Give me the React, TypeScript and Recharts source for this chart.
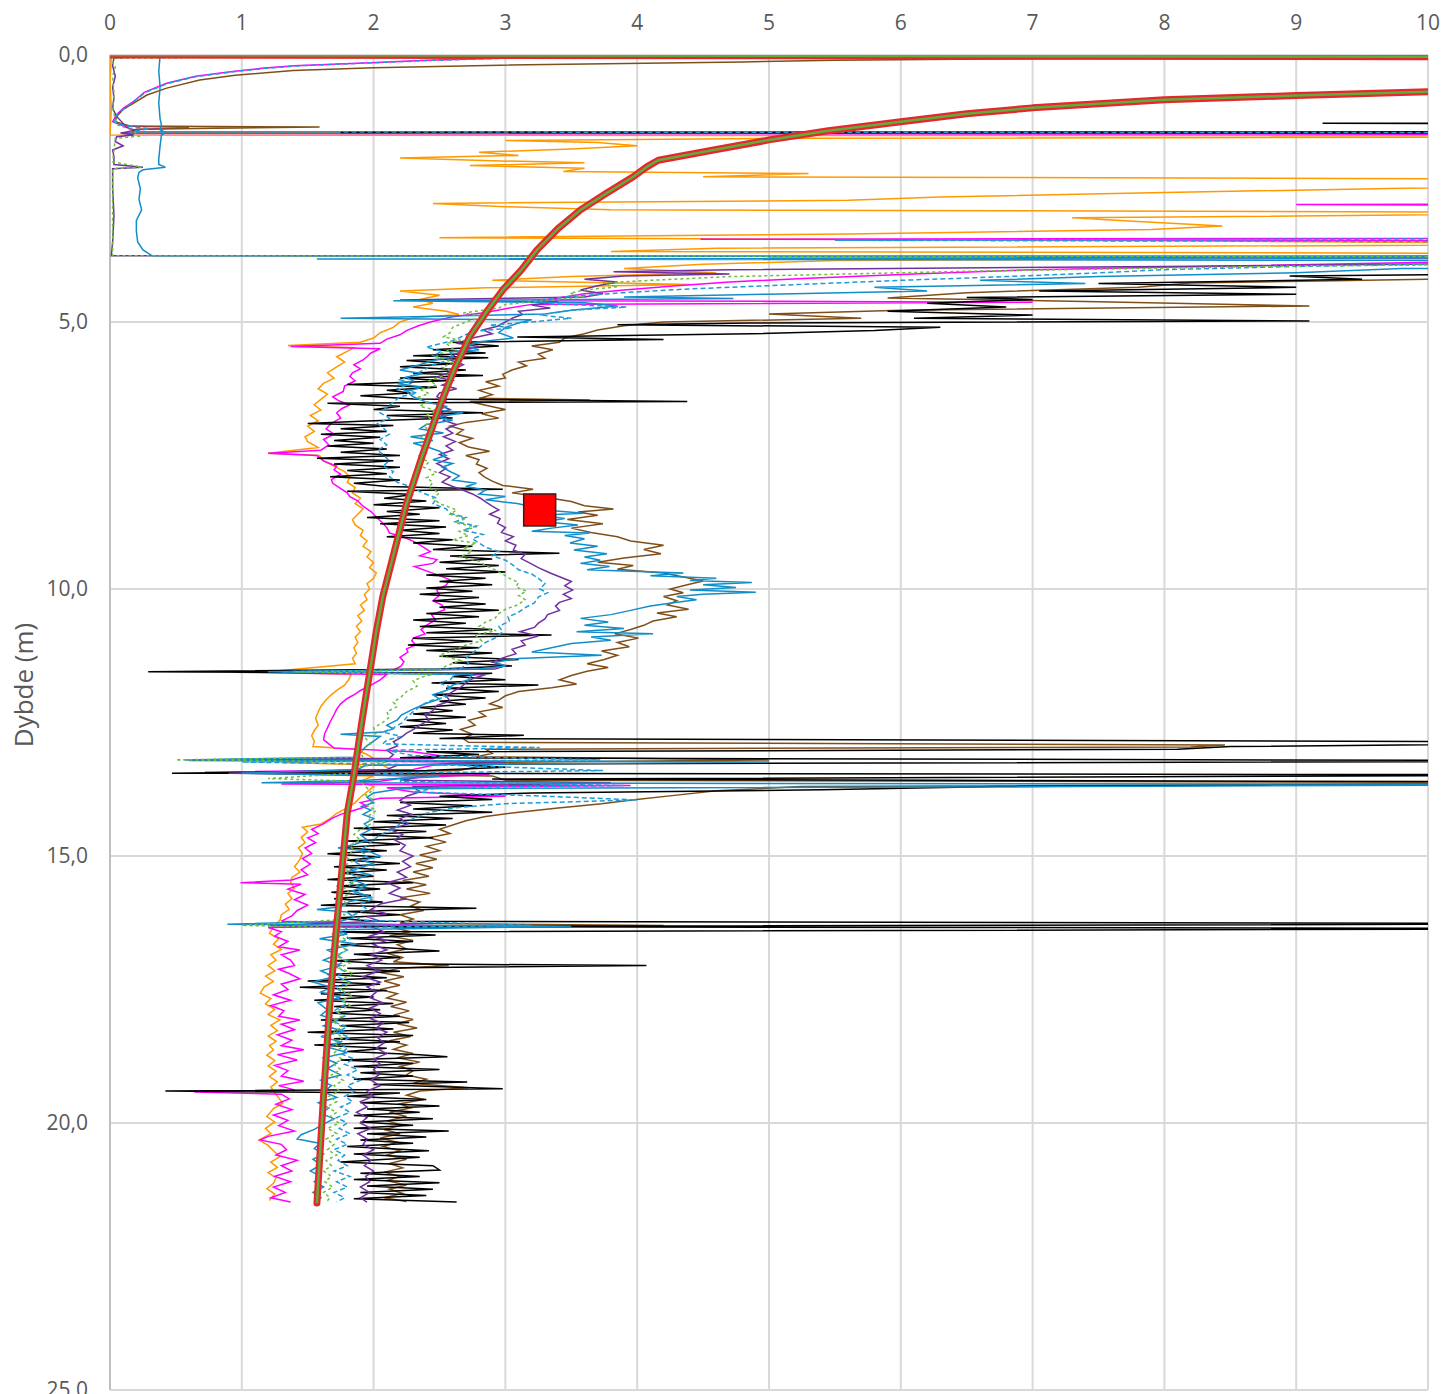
import React from "react";
import { ScatterChart, Scatter, XAxis, YAxis, CartesianGrid } from "recharts";

// [depth (m), value] pairs
const X_TICKS = [0, 1, 2, 3, 4, 5, 6, 7, 8, 9, 10];
const Y_TICKS = [0, 5, 10, 15, 20, 25];

const orangeTrace: [number, number][] = [
  [0, 25], [0.03, 0.01], [0.5, 0.0], [1.0, 0.01], [1.5, 0.0],
  [1.52, 15], [1.56, 5.3], [1.6, 3.0], [1.64, 3.7], [1.7, 4.0], [1.76, 3.5], [1.82, 2.8], [1.88, 3.1],
  [1.93, 2.2], [1.98, 2.9], [2.02, 3.6], [2.07, 2.73], [2.12, 3.6], [2.18, 3.44], [2.22, 5.3], [2.28, 4.5],
  [2.33, 12], [2.42, 12], [2.5, 9.7], [2.58, 7.9], [2.66, 6.3], [2.72, 5.6], [2.78, 2.45], [2.84, 3.0],
  [2.9, 3.8], [2.95, 12], [3.05, 7.3], [3.12, 7.8], [3.2, 8.44], [3.27, 7.9], [3.35, 5.6], [3.42, 2.5],
  [3.48, 8.0], [3.54, 12], [3.62, 4.6], [3.68, 3.8], [3.72, 12], [3.78, 12], [3.85, 5.5], [3.92, 4.5],
  [4.0, 3.9], [4.08, 4.6], [4.15, 3.5], [4.22, 2.9], [4.3, 4.4], [4.36, 2.85], [4.42, 2.2], [4.5, 2.5],
  [4.58, 2.35], [4.65, 2.45], [4.72, 2.3], [4.8, 2.55], [4.86, 2.65], [4.92, 2.3], [5.0, 2.2], [5.1, 2.15],
  [5.2, 2.05], [5.3, 2.0], [5.38, 1.9], [5.44, 1.35], [5.48, 1.85], [5.55, 1.8], [5.65, 1.72], [5.75, 1.78],
  [5.84, 1.72], [5.95, 1.65], [6.05, 1.7], [6.15, 1.62], [6.25, 1.58], [6.35, 1.65], [6.45, 1.6], [6.55, 1.55],
  [6.65, 1.6], [6.75, 1.52], [6.85, 1.58], [6.95, 1.5], [7.05, 1.55], [7.15, 1.48], [7.24, 1.5], [7.35, 1.58],
  [7.46, 1.2], [7.5, 1.59], [7.6, 1.62], [7.7, 1.7], [7.8, 1.78], [7.9, 1.82], [8.0, 1.8], [8.1, 1.86],
  [8.2, 1.84], [8.3, 1.9], [8.4, 1.86], [8.5, 1.92], [8.6, 1.88], [8.7, 1.84], [8.8, 1.86], [8.9, 1.92],
  [9.0, 1.9], [9.1, 1.95], [9.2, 1.92], [9.3, 1.98], [9.4, 1.95], [9.5, 2.0], [9.6, 1.97], [9.7, 2.02],
  [9.8, 2.0], [9.9, 1.95], [10.0, 1.97], [10.1, 1.93], [10.2, 1.95], [10.3, 1.9], [10.4, 1.93], [10.5, 1.88],
  [10.6, 1.91], [10.7, 1.87], [10.8, 1.9], [10.9, 1.86], [11.0, 1.88], [11.1, 1.85], [11.2, 1.87], [11.3, 1.84],
  [11.4, 1.86], [11.55, 1.2], [11.6, 1.83], [11.7, 1.81], [11.8, 1.78], [11.9, 1.72], [12.0, 1.67], [12.1, 1.63],
  [12.2, 1.6], [12.3, 1.58], [12.42, 1.56], [12.55, 1.58], [12.65, 1.55], [12.75, 1.53], [12.85, 1.55], [12.95, 1.54],
  [13.0, 1.86], [13.1, 1.95], [13.2, 2.02], [13.25, 1.3], [13.3, 2.07], [13.4, 2.15], [13.45, 1.1], [13.5, 2.0],
  [13.6, 1.9], [13.7, 2.0], [13.8, 1.95], [13.9, 1.9], [14.0, 1.86], [14.1, 1.8], [14.2, 1.72], [14.3, 1.67],
  [14.4, 1.6], [14.46, 1.46], [14.55, 1.5], [14.65, 1.45], [14.75, 1.48], [14.85, 1.43], [14.95, 1.46], [15.07, 1.44],
  [15.2, 1.4], [15.3, 1.44], [15.4, 1.38], [15.5, 1.37], [15.6, 1.4], [15.7, 1.35], [15.8, 1.38], [15.9, 1.33],
  [16.0, 1.36], [16.1, 1.3], [16.2, 1.29], [16.3, 1.25], [16.45, 1.21], [16.55, 1.28], [16.65, 1.24], [16.75, 1.3],
  [16.85, 1.22], [16.95, 1.26], [17.05, 1.2], [17.15, 1.25], [17.25, 1.18], [17.35, 1.24], [17.45, 1.17], [17.57, 1.14],
  [17.67, 1.22], [17.77, 1.18], [17.87, 1.25], [17.97, 1.2], [18.07, 1.29], [18.17, 1.22], [18.27, 1.27], [18.37, 1.2],
  [18.47, 1.26], [18.55, 1.21], [18.63, 1.24], [18.73, 1.19], [18.83, 1.25], [18.93, 1.2], [19.03, 1.26], [19.13, 1.21],
  [19.23, 1.27], [19.33, 1.22], [19.43, 1.25], [19.53, 1.28], [19.63, 1.31], [19.73, 1.24], [19.88, 1.19], [19.98, 1.25],
  [20.1, 1.18], [20.2, 1.22], [20.32, 1.13], [20.42, 1.2], [20.52, 1.24], [20.63, 1.29], [20.73, 1.22], [20.83, 1.27],
  [20.93, 1.2], [21.03, 1.26], [21.13, 1.24], [21.23, 1.19], [21.33, 1.25], [21.45, 1.21],
];

const magentaTrace: [number, number][] = [
  [0, 25], [0.03, 10], [0.045, 5], [0.06, 2.96], [0.1, 2.4], [0.14, 2.02], [0.2, 1.4], [0.25, 1.15],
  [0.31, 0.93], [0.4, 0.65], [0.53, 0.43], [0.7, 0.26], [0.87, 0.18], [1.0, 0.1], [1.12, 0.05], [1.25, 0.02],
  [1.33, 0.1], [1.36, 0.6], [1.4, 0.18], [1.47, 0.1], [1.49, 15], [2.77, 15], [2.8, 9.0], [2.87, 15],
  [3.42, 15], [3.45, 4.48], [3.5, 15], [3.75, 15], [3.78, 5.0], [3.82, 15], [3.88, 10], [3.95, 8.5],
  [4.02, 7.0], [4.1, 6.1], [4.18, 5.3], [4.25, 4.7], [4.32, 4.3], [4.4, 3.9], [4.47, 3.6], [4.55, 3.4],
  [4.6, 3.25], [4.63, 7.0], [4.67, 3.2], [4.75, 3.0], [4.82, 2.85], [4.9, 2.6], [5.0, 2.43], [5.08, 2.33],
  [5.16, 2.25], [5.24, 2.2], [5.32, 2.1], [5.4, 2.05], [5.46, 1.37], [5.5, 2.05], [5.58, 1.98], [5.65, 1.95],
  [5.71, 1.92], [5.8, 1.85], [5.88, 1.9], [5.95, 1.84], [6.02, 1.82], [6.1, 1.86], [6.2, 1.78], [6.3, 1.77],
  [6.4, 1.69], [6.48, 1.74], [6.55, 1.82], [6.62, 1.76], [6.7, 1.72], [6.8, 1.75], [6.9, 1.68], [7.0, 1.64],
  [7.1, 1.7], [7.2, 1.62], [7.3, 1.66], [7.4, 1.6], [7.46, 1.2], [7.5, 1.57], [7.6, 1.62], [7.7, 1.72],
  [7.77, 1.7], [7.85, 1.75], [7.95, 1.68], [8.02, 1.69], [8.1, 1.74], [8.2, 1.8], [8.27, 1.82], [8.35, 1.88],
  [8.45, 1.92], [8.55, 1.98], [8.65, 2.02], [8.77, 2.07], [8.85, 2.1], [8.95, 2.12], [9.05, 2.25], [9.14, 2.33],
  [9.22, 2.38], [9.3, 2.43], [9.38, 2.35], [9.45, 2.48], [9.52, 2.45], [9.58, 2.31], [9.66, 2.4], [9.75, 2.5],
  [9.83, 2.58], [9.93, 2.55], [10.02, 2.48], [10.12, 2.5], [10.22, 2.45], [10.3, 2.52], [10.39, 2.54], [10.48, 2.44],
  [10.58, 2.47], [10.68, 2.4], [10.76, 2.36], [10.84, 2.39], [10.92, 2.3], [10.97, 2.29], [11.05, 2.32], [11.12, 2.25],
  [11.18, 2.26], [11.28, 2.2], [11.36, 2.23], [11.44, 2.21], [11.52, 2.15], [11.56, 0.95], [11.6, 2.1], [11.7, 2.05],
  [11.8, 1.98], [11.9, 1.9], [11.97, 1.86], [12.05, 1.8], [12.15, 1.75], [12.25, 1.72], [12.35, 1.7], [12.49, 1.67],
  [12.6, 1.65], [12.7, 1.63], [12.82, 1.62], [12.9, 1.66], [12.98, 1.7], [13.05, 2.3], [13.12, 2.5], [13.18, 2.45],
  [13.21, 0.6], [13.24, 2.9], [13.3, 2.45], [13.38, 2.3], [13.43, 0.72], [13.47, 2.88], [13.55, 2.2], [13.6, 2.05],
  [13.65, 1.3], [13.68, 3.95], [13.72, 2.1], [13.8, 2.3], [13.88, 3.0], [13.92, 2.05], [14.0, 1.9], [14.07, 1.95],
  [14.14, 1.86], [14.22, 1.75], [14.3, 1.68], [14.4, 1.62], [14.5, 1.53], [14.58, 1.58], [14.66, 1.5], [14.75, 1.56],
  [14.85, 1.48], [14.95, 1.53], [15.05, 1.46], [15.15, 1.52], [15.26, 1.45], [15.35, 1.5], [15.45, 1.38], [15.5, 0.99],
  [15.53, 1.45], [15.62, 1.35], [15.72, 1.48], [15.82, 1.4], [15.92, 1.5], [16.02, 1.42], [16.12, 1.38], [16.22, 1.3],
  [16.3, 2.45], [16.34, 1.2], [16.42, 1.3], [16.5, 1.25], [16.6, 1.35], [16.7, 1.28], [16.76, 1.44], [16.85, 1.3],
  [16.95, 1.37], [17.05, 1.4], [17.12, 1.28], [17.2, 1.36], [17.3, 1.44], [17.4, 1.3], [17.5, 1.35], [17.6, 1.24],
  [17.7, 1.37], [17.8, 1.22], [17.9, 1.32], [18.0, 1.28], [18.07, 1.44], [18.15, 1.3], [18.25, 1.4], [18.35, 1.27],
  [18.45, 1.38], [18.55, 1.3], [18.63, 1.47], [18.72, 1.27], [18.82, 1.42], [18.92, 1.25], [19.02, 1.35], [19.12, 1.3],
  [19.22, 1.47], [19.3, 1.28], [19.38, 1.4], [19.42, 0.64], [19.46, 1.3], [19.55, 1.36], [19.65, 1.26], [19.75, 1.38],
  [19.85, 1.24], [19.95, 1.35], [20.05, 1.28], [20.15, 1.4], [20.25, 1.2], [20.32, 1.14], [20.4, 1.3], [20.5, 1.34],
  [20.6, 1.26], [20.7, 1.42], [20.8, 1.3], [20.9, 1.38], [21.0, 1.25], [21.1, 1.37], [21.2, 1.24], [21.3, 1.33],
  [21.4, 1.22], [21.48, 1.37],
];

const brownTrace: [number, number][] = [
  [0, 25], [0.04, 10], [0.06, 7.5], [0.1, 5.5], [0.13, 4.8], [0.19, 2.96], [0.24, 2.0], [0.29, 1.39],
  [0.38, 0.95], [0.47, 0.68], [0.62, 0.43], [0.75, 0.28], [0.9, 0.18], [1.02, 0.1], [1.15, 0.05], [1.25, 0.04],
  [1.33, 0.15], [1.35, 1.59], [1.39, 0.2], [1.44, 0.15], [1.46, 15], [4.15, 15], [4.2, 10], [4.27, 8.2],
  [4.35, 7.8], [4.45, 6.5], [4.55, 5.9], [4.62, 7.5], [4.7, 9.1], [4.78, 6.0], [4.85, 5.0], [4.93, 5.7],
  [5.0, 4.2], [5.07, 3.9], [5.15, 3.7], [5.22, 3.6], [5.3, 3.45], [5.38, 3.41], [5.45, 3.2], [5.52, 3.36],
  [5.6, 3.25], [5.68, 3.3], [5.75, 3.1], [5.82, 3.16], [5.9, 3.05], [5.98, 2.98], [6.05, 3.0], [6.12, 2.85],
  [6.2, 2.95], [6.28, 2.8], [6.36, 2.9], [6.43, 2.8], [6.46, 3.64], [6.49, 2.73], [6.56, 2.85], [6.64, 3.0],
  [6.72, 2.82], [6.8, 2.95], [6.88, 2.7], [6.95, 2.58], [7.02, 2.68], [7.1, 2.63], [7.18, 2.75], [7.26, 2.65],
  [7.34, 2.72], [7.42, 2.88], [7.5, 2.7], [7.58, 2.8], [7.66, 2.78], [7.74, 2.86], [7.82, 2.8], [7.9, 2.84],
  [7.98, 2.9], [8.06, 2.98], [8.13, 3.21], [8.2, 3.05], [8.28, 3.3], [8.36, 3.5], [8.44, 3.6], [8.5, 3.82],
  [8.56, 3.55], [8.62, 3.7], [8.7, 3.47], [8.78, 3.74], [8.86, 3.5], [8.94, 3.65], [9.02, 3.85], [9.1, 3.95],
  [9.18, 4.2], [9.26, 4.05], [9.34, 4.18], [9.42, 3.9], [9.5, 3.7], [9.56, 3.97], [9.63, 3.85], [9.7, 4.2],
  [9.78, 4.36], [9.85, 4.5], [9.92, 4.38], [10.0, 4.25], [10.07, 4.35], [10.14, 4.2], [10.22, 4.3], [10.3, 4.23],
  [10.38, 4.39], [10.45, 4.15], [10.52, 4.3], [10.6, 4.12], [10.68, 4.05], [10.76, 3.95], [10.84, 3.83], [10.92, 4.01],
  [11.0, 3.85], [11.08, 3.94], [11.16, 3.73], [11.24, 3.85], [11.32, 3.75], [11.4, 3.62], [11.47, 3.78], [11.54, 3.62],
  [11.62, 3.5], [11.7, 3.41], [11.78, 3.54], [11.85, 3.35], [11.92, 3.1], [12.0, 3.0], [12.08, 2.95], [12.15, 2.88],
  [12.22, 2.98], [12.3, 2.8], [12.38, 2.85], [12.46, 2.72], [12.55, 2.77], [12.63, 2.66], [12.72, 2.75], [12.8, 2.68],
  [12.87, 2.72], [12.92, 8.46], [12.96, 8.2], [13.0, 2.85], [13.08, 2.9], [13.14, 2.78], [13.2, 5.0], [13.25, 2.7],
  [13.32, 2.8], [13.4, 2.65], [13.45, 1.4], [13.5, 2.9], [13.58, 3.0], [13.63, 12], [13.7, 5.24], [13.78, 4.6],
  [13.86, 4.3], [13.95, 3.96], [14.02, 3.73], [14.1, 3.4], [14.18, 3.1], [14.26, 2.85], [14.34, 2.7], [14.42, 2.6],
  [14.5, 2.5], [14.58, 2.58], [14.66, 2.42], [14.74, 2.55], [14.82, 2.4], [14.9, 2.5], [14.98, 2.35], [15.06, 2.48],
  [15.14, 2.32], [15.22, 2.45], [15.3, 2.3], [15.38, 2.42], [15.46, 2.22], [15.54, 2.4], [15.62, 2.25], [15.7, 2.43],
  [15.78, 2.2], [15.86, 2.35], [15.94, 2.28], [16.02, 2.38], [16.1, 2.2], [16.18, 2.3], [16.26, 2.2], [16.3, 4.2],
  [16.34, 2.15], [16.42, 2.28], [16.5, 2.12], [16.58, 2.3], [16.66, 2.18], [16.74, 2.25], [16.82, 2.1], [16.9, 2.22],
  [16.98, 2.15], [17.05, 2.57], [17.1, 2.2], [17.18, 2.05], [17.26, 2.23], [17.34, 2.08], [17.42, 2.2], [17.5, 2.05],
  [17.58, 2.18], [17.66, 2.1], [17.74, 2.25], [17.82, 2.13], [17.9, 2.27], [17.98, 2.15], [18.06, 2.3], [18.14, 2.18],
  [18.22, 2.33], [18.3, 2.15], [18.38, 2.28], [18.46, 2.12], [18.54, 2.25], [18.62, 2.15], [18.7, 2.3], [18.78, 2.18],
  [18.86, 2.35], [18.94, 2.2], [19.02, 2.3], [19.1, 2.25], [19.18, 2.4], [19.26, 2.3], [19.34, 2.72], [19.4, 2.35],
  [19.48, 2.25], [19.56, 2.38], [19.64, 2.2], [19.72, 2.28], [19.8, 2.12], [19.88, 2.25], [19.96, 2.1], [20.04, 2.22],
  [20.12, 2.08], [20.2, 2.2], [20.28, 2.05], [20.36, 2.18], [20.44, 2.07], [20.52, 2.2], [20.6, 2.1], [20.68, 2.25],
  [20.76, 2.12], [20.84, 2.22], [20.92, 2.08], [21.0, 2.2], [21.08, 2.1], [21.16, 2.25], [21.24, 2.12], [21.32, 2.22],
  [21.4, 2.08], [21.47, 2.25],
];

const blackTrace: [number, number][] = [
  [0, 25], [1.25, 25], [1.28, 9.2], [1.31, 25], [1.42, 25], [1.45, 1.75], [1.48, 25], [4.05, 25],
  [4.1, 10.5], [4.14, 8.95], [4.2, 9.5], [4.28, 7.5], [4.35, 9.0], [4.42, 7.05], [4.48, 9.0], [4.54, 6.5],
  [4.58, 7.0], [4.65, 6.2], [4.72, 6.8], [4.8, 5.9], [4.87, 7.0], [4.93, 6.1], [4.98, 9.1], [5.02, 4.86],
  [5.05, 3.85], [5.1, 6.3], [5.16, 5.8], [5.22, 4.86], [5.28, 3.09], [5.33, 4.2], [5.38, 2.6], [5.45, 2.95],
  [5.52, 2.45], [5.58, 2.85], [5.63, 2.3], [5.67, 2.87], [5.72, 2.25], [5.78, 2.6], [5.84, 2.2], [5.9, 2.7],
  [5.96, 2.3], [6.0, 2.83], [6.05, 2.2], [6.1, 2.55], [6.17, 1.8], [6.22, 2.48], [6.28, 2.1], [6.33, 2.28],
  [6.38, 1.9], [6.44, 2.3], [6.49, 4.38], [6.52, 1.65], [6.58, 2.2], [6.64, 2.0], [6.7, 2.83], [6.75, 2.1],
  [6.8, 2.6], [6.86, 1.9], [6.9, 1.5], [6.94, 2.15], [7.0, 1.75], [7.05, 2.1], [7.1, 1.6], [7.16, 2.05],
  [7.22, 1.7], [7.27, 2.0], [7.32, 1.65], [7.38, 2.1], [7.44, 1.75], [7.5, 2.2], [7.55, 1.57], [7.6, 2.15],
  [7.66, 1.7], [7.72, 2.2], [7.78, 1.8], [7.84, 2.1], [7.9, 1.67], [7.96, 2.2], [8.02, 1.85], [8.08, 2.1],
  [8.13, 2.98], [8.17, 1.8], [8.23, 2.3], [8.3, 2.08], [8.35, 2.4], [8.42, 2.0], [8.48, 2.5], [8.55, 2.1],
  [8.6, 2.35], [8.66, 1.95], [8.72, 2.5], [8.78, 2.05], [8.84, 2.55], [8.9, 2.2], [8.96, 2.5], [9.02, 2.1],
  [9.08, 2.6], [9.14, 2.3], [9.2, 2.75], [9.26, 2.45], [9.33, 3.41], [9.38, 2.58], [9.44, 2.9], [9.5, 2.5],
  [9.56, 2.95], [9.62, 2.55], [9.68, 3.0], [9.74, 2.4], [9.8, 2.85], [9.86, 2.5], [9.92, 2.9], [9.98, 2.4],
  [10.04, 2.75], [10.1, 2.35], [10.16, 2.8], [10.22, 2.45], [10.28, 2.85], [10.34, 2.5], [10.4, 2.95], [10.46, 2.4],
  [10.52, 2.8], [10.58, 2.3], [10.64, 2.7], [10.7, 2.35], [10.76, 2.9], [10.82, 2.4], [10.86, 3.35], [10.92, 2.3],
  [10.98, 2.75], [11.05, 2.26], [11.1, 2.8], [11.15, 2.4], [11.2, 2.9], [11.26, 2.5], [11.32, 3.1], [11.38, 2.6],
  [11.44, 3.05], [11.5, 2.5], [11.55, 0.29], [11.58, 2.9], [11.64, 2.6], [11.7, 3.0], [11.76, 2.44], [11.8, 3.25],
  [11.86, 2.55], [11.92, 2.95], [11.98, 2.45], [12.04, 2.85], [12.1, 2.5], [12.16, 2.7], [12.22, 2.35], [12.28, 2.6],
  [12.34, 2.3], [12.4, 2.7], [12.46, 2.25], [12.52, 2.55], [12.58, 2.2], [12.64, 2.6], [12.7, 2.3], [12.74, 3.14],
  [12.8, 2.5], [12.87, 12], [12.95, 8.5], [13.0, 8.1], [13.05, 2.4], [13.1, 2.8], [13.16, 2.2], [13.22, 12],
  [13.28, 2.6], [13.34, 3.0], [13.4, 2.4], [13.45, 0.47], [13.48, 12], [13.56, 2.9], [13.62, 12], [13.7, 6.73],
  [13.76, 5.4], [13.82, 3.2], [13.88, 2.5], [13.94, 2.9], [14.0, 2.2], [14.06, 2.75], [14.12, 2.3], [14.18, 2.9],
  [14.24, 2.1], [14.3, 2.6], [14.36, 2.0], [14.42, 2.55], [14.48, 1.85], [14.54, 2.4], [14.6, 1.9], [14.66, 2.45],
  [14.72, 1.8], [14.78, 2.2], [14.84, 1.75], [14.9, 2.1], [14.96, 1.65], [15.02, 2.05], [15.08, 1.8], [15.14, 2.2],
  [15.2, 1.7], [15.26, 2.1], [15.32, 1.75], [15.38, 2.0], [15.44, 1.65], [15.5, 2.3], [15.56, 1.72], [15.62, 2.05],
  [15.68, 1.68], [15.74, 1.98], [15.8, 1.7], [15.86, 2.07], [15.92, 1.6], [15.98, 2.78], [16.04, 1.8], [16.1, 2.2],
  [16.16, 1.7], [16.22, 2.0], [16.27, 12], [16.32, 1.9], [16.36, 12], [16.42, 1.7], [16.48, 2.47], [16.54, 1.8],
  [16.6, 2.3], [16.66, 1.75], [16.72, 2.1], [16.78, 2.5], [16.84, 1.85], [16.9, 2.2], [16.96, 1.7], [17.02, 2.1],
  [17.05, 4.07], [17.1, 1.8], [17.16, 2.2], [17.22, 1.65], [17.28, 2.1], [17.34, 1.5], [17.4, 2.05], [17.46, 1.44],
  [17.52, 2.1], [17.58, 1.6], [17.64, 2.0], [17.7, 1.55], [17.76, 2.15], [17.82, 1.7], [17.88, 2.05], [17.94, 1.65],
  [18.0, 2.2], [18.07, 1.6], [18.12, 2.27], [18.18, 1.75], [18.24, 2.15], [18.3, 1.5], [18.36, 2.3], [18.42, 1.7],
  [18.48, 2.2], [18.54, 1.55], [18.6, 2.1], [18.66, 1.8], [18.72, 2.35], [18.76, 2.56], [18.82, 1.75], [18.88, 2.3],
  [18.94, 1.85], [19.0, 2.5], [19.06, 1.9], [19.12, 2.3], [19.18, 1.85], [19.23, 2.71], [19.28, 2.0], [19.36, 2.98],
  [19.4, 0.42], [19.44, 2.2], [19.5, 1.8], [19.56, 2.4], [19.62, 1.9], [19.68, 2.5], [19.74, 1.95], [19.8, 2.35],
  [19.86, 1.85], [19.92, 2.45], [19.98, 1.9], [20.04, 2.3], [20.1, 1.85], [20.15, 2.57], [20.2, 1.95], [20.26, 2.4],
  [20.32, 1.9], [20.38, 2.3], [20.44, 1.8], [20.52, 2.42], [20.58, 1.85], [20.64, 2.35], [20.73, 1.75], [20.8, 2.45],
  [20.88, 2.5], [20.94, 1.9], [21.0, 2.35], [21.06, 1.85], [21.12, 2.5], [21.18, 1.95], [21.24, 2.45], [21.3, 1.9],
  [21.36, 2.4], [21.42, 1.85], [21.48, 2.63],
];

const purpleTrace: [number, number][] = [
  [0, 25], [0.03, 0.3], [0.05, 0.03], [0.2, 0.02], [0.4, 0.04], [0.6, 0.02], [0.8, 0.03], [1.0, 0.02],
  [1.15, 0.05], [1.28, 0.1], [1.35, 0.12], [1.42, 0.2], [1.46, 0.08], [1.5, 0.18], [1.53, 0.05], [1.62, 0.04],
  [1.7, 0.1], [1.78, 0.02], [1.9, 0.03], [2.05, 0.03], [2.1, 0.25], [2.13, 0.02], [2.5, 0.02], [3.0, 0.03],
  [3.5, 0.02], [3.76, 0.01], [3.78, 15], [3.83, 15], [3.9, 10.5], [3.96, 8.0], [4.02, 4.7], [4.06, 3.82],
  [4.1, 4.7], [4.14, 3.9], [4.2, 3.6], [4.25, 3.85], [4.32, 3.7], [4.4, 3.57], [4.47, 3.74], [4.53, 3.6],
  [4.59, 2.2], [4.62, 3.4], [4.68, 3.2], [4.74, 3.34], [4.8, 3.1], [4.86, 3.13], [4.92, 3.06], [5.0, 3.0],
  [5.08, 2.94], [5.15, 2.83], [5.22, 2.9], [5.3, 2.75], [5.4, 2.63], [5.46, 2.8], [5.52, 2.7], [5.6, 2.62],
  [5.71, 2.58], [5.8, 2.68], [5.9, 2.6], [5.97, 2.55], [6.03, 2.48], [6.1, 2.6], [6.18, 2.52], [6.25, 2.63],
  [6.33, 2.5], [6.4, 2.48], [6.48, 2.55], [6.56, 2.5], [6.64, 2.58], [6.72, 2.49], [6.78, 2.55], [6.84, 2.53],
  [6.92, 2.63], [7.0, 2.55], [7.08, 2.6], [7.15, 2.53], [7.24, 2.62], [7.32, 2.55], [7.4, 2.6], [7.48, 2.5],
  [7.56, 2.57], [7.65, 2.48], [7.74, 2.55], [7.82, 2.5], [7.9, 2.58], [8.0, 2.52], [8.08, 2.6], [8.15, 2.68],
  [8.22, 2.75], [8.3, 2.81], [8.37, 2.85], [8.45, 2.9], [8.52, 2.95], [8.6, 2.88], [8.68, 2.96], [8.77, 2.94],
  [8.85, 3.0], [8.94, 2.97], [9.02, 3.06], [9.1, 3.0], [9.18, 3.08], [9.27, 3.06], [9.35, 3.15], [9.43, 3.12],
  [9.52, 3.19], [9.6, 3.25], [9.7, 3.34], [9.78, 3.42], [9.86, 3.5], [9.94, 3.45], [10.02, 3.51], [10.1, 3.44],
  [10.18, 3.5], [10.25, 3.41], [10.32, 3.38], [10.4, 3.41], [10.48, 3.32], [10.56, 3.3], [10.64, 3.25], [10.72, 3.22],
  [10.8, 3.11], [10.88, 3.25], [10.97, 3.12], [11.05, 3.15], [11.13, 3.05], [11.21, 3.08], [11.29, 2.98], [11.37, 2.9],
  [11.44, 3.0], [11.5, 2.92], [11.55, 1.3], [11.6, 2.85], [11.68, 2.75], [11.76, 2.7], [11.84, 2.66], [11.92, 2.6],
  [12.0, 2.55], [12.1, 2.58], [12.18, 2.48], [12.28, 2.45], [12.36, 2.39], [12.46, 2.42], [12.55, 2.35], [12.62, 2.31],
  [12.7, 2.25], [12.78, 2.21], [12.86, 2.15], [12.94, 2.18], [13.02, 2.1], [13.1, 2.15], [13.17, 2.12], [13.2, 0.62],
  [13.24, 3.0], [13.3, 2.18], [13.38, 2.1], [13.45, 0.9], [13.5, 2.4], [13.58, 2.2], [13.63, 3.8], [13.7, 2.3],
  [13.8, 2.35], [13.88, 2.25], [13.96, 2.2], [14.05, 2.28], [14.14, 2.18], [14.22, 2.29], [14.3, 2.2], [14.4, 2.26],
  [14.5, 2.12], [14.6, 2.22], [14.7, 2.16], [14.8, 2.24], [14.9, 2.2], [15.0, 2.3], [15.1, 2.22], [15.2, 2.28],
  [15.3, 2.18], [15.4, 2.25], [15.5, 2.1], [15.6, 2.2], [15.7, 2.12], [15.8, 2.25], [15.9, 2.05], [16.0, 1.98],
  [16.08, 2.1], [16.14, 1.95], [16.22, 2.05], [16.3, 1.2], [16.34, 2.0], [16.42, 2.08], [16.5, 1.97], [16.58, 2.1],
  [16.66, 2.0], [16.76, 2.1], [16.85, 1.98], [16.95, 2.06], [17.05, 1.95], [17.15, 2.04], [17.26, 1.92], [17.36, 2.05],
  [17.45, 1.95], [17.55, 2.02], [17.65, 1.97], [17.75, 2.07], [17.85, 1.97], [17.95, 2.05], [18.05, 1.98], [18.13, 2.07],
  [18.22, 2.02], [18.3, 2.1], [18.4, 2.03], [18.5, 2.08], [18.6, 2.02], [18.7, 2.1], [18.8, 2.0], [18.9, 2.05],
  [19.0, 2.0], [19.1, 2.04], [19.2, 1.98], [19.3, 2.05], [19.4, 1.95], [19.5, 2.0], [19.6, 1.9], [19.7, 1.95],
  [19.8, 1.87], [19.9, 1.95], [20.0, 1.9], [20.1, 1.98], [20.2, 1.88], [20.3, 1.95], [20.4, 1.92], [20.5, 2.0],
  [20.6, 1.92], [20.7, 1.98], [20.8, 1.93], [20.9, 2.0], [21.0, 1.94], [21.1, 1.97], [21.2, 1.9], [21.3, 1.97],
  [21.4, 1.9], [21.48, 1.95],
];

const blueTrace: [number, number][] = [
  [0, 25], [0.02, 0.38], [0.3, 0.37], [0.6, 0.38], [0.9, 0.37], [1.2, 0.38], [1.3, 0.39], [1.4, 0.38],
  [1.45, 0.42], [1.5, 0.39], [1.7, 0.38], [1.95, 0.37], [2.05, 0.37], [2.1, 0.42], [2.15, 0.25], [2.2, 0.22],
  [2.3, 0.21], [2.5, 0.23], [2.7, 0.22], [2.9, 0.24], [3.1, 0.2], [3.3, 0.2], [3.5, 0.21], [3.65, 0.25],
  [3.76, 0.32], [3.79, 15], [3.82, 1.57], [3.86, 15], [3.95, 15], [4.0, 9.8], [4.08, 9.0], [4.15, 7.5],
  [4.22, 6.6], [4.28, 7.4], [4.35, 5.8], [4.42, 6.2], [4.48, 5.0], [4.53, 3.9], [4.56, 4.73], [4.6, 2.15],
  [4.64, 3.6], [4.7, 3.85], [4.78, 3.5], [4.85, 3.3], [4.93, 1.75], [4.96, 3.2], [5.02, 3.1], [5.1, 3.0],
  [5.2, 2.95], [5.3, 3.06], [5.37, 2.8], [5.45, 2.7], [5.52, 2.8], [5.56, 2.58], [5.65, 2.6], [5.72, 2.45],
  [5.8, 2.35], [5.9, 2.2], [5.97, 2.37], [6.03, 2.25], [6.1, 2.3], [6.15, 2.18], [6.22, 2.37], [6.3, 2.25],
  [6.4, 2.3], [6.5, 2.4], [6.58, 2.55], [6.65, 2.5], [6.7, 2.68], [6.78, 2.48], [6.84, 2.6], [6.92, 2.4],
  [7.0, 2.35], [7.08, 2.53], [7.15, 2.28], [7.22, 2.45], [7.27, 2.3], [7.35, 2.42], [7.42, 2.5], [7.5, 2.55],
  [7.58, 2.45], [7.65, 2.6], [7.72, 2.52], [7.8, 2.58], [7.88, 2.65], [7.96, 2.6], [8.02, 2.78], [8.08, 2.7],
  [8.15, 2.85], [8.22, 2.8], [8.27, 3.0], [8.33, 2.85], [8.4, 3.09], [8.46, 3.2], [8.52, 3.3], [8.58, 3.59],
  [8.62, 3.25], [8.68, 3.45], [8.74, 3.3], [8.8, 3.55], [8.86, 3.35], [8.92, 3.2], [8.95, 3.64], [9.0, 3.45],
  [9.06, 3.6], [9.14, 3.49], [9.2, 3.7], [9.27, 3.52], [9.34, 3.77], [9.4, 3.6], [9.46, 3.72], [9.52, 3.57],
  [9.58, 3.79], [9.64, 3.62], [9.7, 4.35], [9.75, 4.1], [9.8, 4.6], [9.84, 4.4], [9.88, 4.87], [9.92, 4.5],
  [9.97, 4.75], [10.02, 4.4], [10.06, 4.9], [10.1, 4.5], [10.14, 4.3], [10.2, 4.45], [10.26, 4.26], [10.32, 4.1],
  [10.4, 3.95], [10.48, 3.8], [10.55, 3.57], [10.62, 3.78], [10.68, 3.6], [10.74, 3.9], [10.8, 3.54], [10.84, 4.12],
  [10.9, 3.65], [10.96, 3.8], [11.02, 3.5], [11.1, 3.35], [11.18, 3.2], [11.24, 3.73], [11.3, 3.1], [11.37, 2.92],
  [11.44, 3.0], [11.5, 2.8], [11.55, 1.2], [11.6, 2.75], [11.7, 2.72], [11.8, 2.6], [11.9, 2.55], [11.98, 2.45],
  [12.06, 2.5], [12.15, 2.39], [12.25, 2.3], [12.36, 2.21], [12.45, 2.18], [12.55, 2.1], [12.62, 2.15], [12.68, 2.07],
  [12.72, 1.75], [12.76, 2.05], [12.85, 2.0], [12.95, 1.94], [13.07, 1.9], [13.15, 1.86], [13.2, 0.57], [13.24, 5.0],
  [13.3, 1.94], [13.38, 1.88], [13.45, 1.0], [13.5, 2.5], [13.58, 1.95], [13.63, 1.15], [13.66, 12], [13.74, 2.2],
  [13.82, 2.0], [13.9, 1.95], [14.0, 2.0], [14.07, 1.91], [14.14, 1.98], [14.22, 1.92], [14.3, 2.0], [14.4, 1.93],
  [14.5, 1.98], [14.6, 1.9], [14.7, 1.95], [14.78, 1.86], [14.85, 1.73], [14.9, 1.95], [15.0, 2.05], [15.08, 1.92],
  [15.15, 2.0], [15.26, 1.82], [15.35, 1.97], [15.45, 1.85], [15.55, 1.95], [15.65, 1.84], [15.77, 1.98], [15.85, 1.82],
  [15.95, 1.75], [16.0, 1.57], [16.05, 1.8], [16.15, 1.85], [16.22, 1.75], [16.28, 0.89], [16.32, 3.5], [16.38, 1.7],
  [16.46, 1.8], [16.55, 1.59], [16.65, 1.87], [16.76, 1.65], [16.85, 1.72], [16.95, 1.62], [17.05, 1.75], [17.15, 1.6],
  [17.26, 1.7], [17.36, 1.54], [17.46, 1.68], [17.55, 1.6], [17.65, 1.75], [17.75, 1.58], [17.88, 1.65], [17.98, 1.6],
  [18.08, 1.72], [18.18, 1.62], [18.28, 1.78], [18.38, 1.6], [18.48, 1.75], [18.58, 1.65], [18.68, 1.8], [18.78, 1.62],
  [18.88, 1.72], [18.98, 1.65], [19.1, 1.75], [19.2, 1.6], [19.3, 1.68], [19.42, 1.62], [19.52, 1.72], [19.62, 1.58],
  [19.72, 1.66], [19.82, 1.6], [19.92, 1.7], [20.02, 1.62], [20.12, 1.55], [20.22, 1.45], [20.3, 1.42], [20.38, 1.59],
  [20.48, 1.55], [20.58, 1.62], [20.68, 1.54], [20.78, 1.6], [20.9, 1.52], [21.0, 1.6], [21.1, 1.55], [21.2, 1.62],
  [21.3, 1.54], [21.4, 1.6], [21.48, 1.56],
];

const blueDashTrace: [number, number][] = [
  [0, 0], [0.015, 25], [0.03, 10.5], [0.045, 5.2], [0.06, 3.0], [0.1, 2.45], [0.14, 2.05], [0.2, 1.45],
  [0.25, 1.18], [0.31, 0.95], [0.4, 0.66], [0.53, 0.44], [0.7, 0.27], [0.87, 0.18], [1.0, 0.11], [1.12, 0.05],
  [1.25, 0.03], [1.33, 0.12], [1.38, 0.3], [1.44, 0.15], [1.46, 15], [3.42, 15], [3.47, 5.5], [3.52, 15],
  [3.85, 15], [3.9, 10.5], [3.96, 9.0], [4.02, 8.0], [4.08, 7.5], [4.15, 6.8], [4.22, 6.0], [4.3, 5.2],
  [4.38, 4.4], [4.45, 3.9], [4.52, 3.5], [4.6, 3.2], [4.66, 3.35], [4.72, 3.92], [4.78, 3.5], [4.87, 3.26],
  [4.93, 3.5], [5.0, 3.19], [5.06, 2.88], [5.11, 3.05], [5.18, 2.75], [5.26, 2.68], [5.35, 2.6], [5.47, 2.4],
  [5.55, 2.52], [5.63, 2.45], [5.71, 2.58], [5.8, 2.45], [5.9, 2.38], [6.0, 2.3], [6.08, 2.2], [6.15, 2.28],
  [6.25, 2.18], [6.33, 2.33], [6.4, 2.2], [6.5, 2.15], [6.6, 2.1], [6.7, 2.05], [6.8, 2.12], [6.9, 2.03],
  [7.0, 2.08], [7.1, 2.12], [7.2, 2.05], [7.3, 2.1], [7.4, 2.03], [7.5, 2.08], [7.6, 2.12], [7.7, 2.07],
  [7.8, 2.15], [7.9, 2.12], [8.0, 2.18], [8.1, 2.3], [8.2, 2.37], [8.3, 2.48], [8.4, 2.45], [8.5, 2.55],
  [8.58, 2.58], [8.66, 2.7], [8.74, 2.62], [8.82, 2.78], [8.9, 2.68], [8.98, 2.83], [9.06, 2.75], [9.14, 2.8],
  [9.22, 2.85], [9.3, 2.95], [9.38, 2.9], [9.46, 3.0], [9.54, 3.05], [9.64, 3.1], [9.72, 3.2], [9.8, 3.25],
  [9.9, 3.3], [10.0, 3.26], [10.07, 3.32], [10.15, 3.25], [10.26, 3.22], [10.35, 3.15], [10.45, 3.09], [10.52, 3.02],
  [10.6, 3.03], [10.7, 2.95], [10.8, 2.98], [10.92, 2.92], [11.0, 2.85], [11.1, 2.8], [11.2, 2.75], [11.3, 2.7],
  [11.4, 2.72], [11.5, 2.65], [11.55, 1.3], [11.6, 2.62], [11.7, 2.58], [11.76, 2.5], [11.85, 2.6], [11.95, 2.5],
  [12.02, 2.55], [12.1, 2.42], [12.2, 2.35], [12.3, 2.3], [12.4, 2.25], [12.5, 2.22], [12.6, 2.15], [12.68, 2.07],
  [12.76, 2.21], [12.83, 2.1], [12.9, 2.07], [12.97, 3.26], [13.02, 2.1], [13.12, 2.3], [13.2, 3.72], [13.24, 1.0],
  [13.3, 2.6], [13.4, 3.74], [13.45, 2.0], [13.5, 2.3], [13.6, 2.2], [13.68, 3.9], [13.72, 2.5], [13.8, 2.3],
  [13.88, 3.3], [13.95, 4.0], [14.02, 3.0], [14.1, 2.6], [14.2, 2.4], [14.3, 2.3], [14.4, 2.2], [14.5, 2.15],
  [14.6, 2.05], [14.7, 2.0], [14.8, 1.95], [14.9, 1.9], [15.0, 1.95], [15.1, 1.85], [15.2, 1.93], [15.3, 1.8],
  [15.4, 1.88], [15.5, 1.82], [15.6, 1.92], [15.7, 1.85], [15.8, 2.0], [15.9, 1.9], [16.0, 1.95], [16.1, 1.85],
  [16.2, 1.9], [16.3, 3.2], [16.34, 1.8], [16.45, 1.75], [16.55, 1.82], [16.65, 1.7], [16.76, 1.8], [16.86, 1.72],
  [16.96, 1.8], [17.06, 1.7], [17.16, 1.78], [17.26, 1.72], [17.36, 1.82], [17.46, 1.7], [17.56, 1.78], [17.66, 1.72],
  [17.76, 1.8], [17.9, 1.7], [18.0, 1.78], [18.1, 1.69], [18.2, 1.8], [18.3, 1.72], [18.4, 1.82], [18.5, 1.73],
  [18.6, 1.8], [18.7, 1.75], [18.8, 1.85], [18.9, 1.78], [19.0, 1.88], [19.1, 1.8], [19.2, 1.9], [19.3, 1.8],
  [19.4, 1.86], [19.5, 1.78], [19.6, 1.84], [19.7, 1.75], [19.8, 1.82], [19.9, 1.72], [20.0, 1.8], [20.1, 1.74],
  [20.2, 1.82], [20.3, 1.72], [20.4, 1.8], [20.5, 1.7], [20.6, 1.78], [20.7, 1.73], [20.8, 1.8], [20.9, 1.7],
  [21.0, 1.82], [21.1, 1.72], [21.2, 1.8], [21.3, 1.7], [21.4, 1.78], [21.48, 1.72],
];

const greenDashTrace: [number, number][] = [
  [0, 25], [0.04, 1.02], [0.06, 0.03], [0.15, 0.02], [0.22, 0.04], [0.4, 0.02], [0.7, 0.03], [1.0, 0.02],
  [1.3, 0.05], [1.42, 0.18], [1.48, 0.2], [1.52, 0.22], [1.56, 0.04], [2.0, 0.02], [2.1, 0.24], [2.13, 0.02],
  [3.0, 0.02], [3.76, 0.02], [3.78, 15], [3.85, 15], [3.95, 9.0], [4.05, 6.5], [4.15, 4.7], [4.22, 4.1],
  [4.27, 3.74], [4.34, 3.85], [4.4, 3.6], [4.46, 3.49], [4.53, 3.59], [4.6, 3.3], [4.67, 3.0], [4.74, 2.95],
  [4.83, 2.68], [4.9, 2.83], [5.0, 2.7], [5.1, 2.6], [5.2, 2.58], [5.28, 2.53], [5.34, 2.66], [5.4, 2.55],
  [5.5, 2.6], [5.6, 2.5], [5.65, 2.48], [5.75, 2.6], [5.85, 2.52], [5.95, 2.63], [6.03, 2.5], [6.1, 2.42],
  [6.18, 2.48], [6.26, 2.35], [6.34, 2.42], [6.42, 2.33], [6.5, 2.4], [6.58, 2.35], [6.65, 2.48], [6.75, 2.4],
  [6.85, 2.45], [6.95, 2.38], [7.05, 2.44], [7.15, 2.36], [7.25, 2.42], [7.35, 2.35], [7.45, 2.4], [7.52, 2.33],
  [7.62, 2.42], [7.72, 2.38], [7.82, 2.48], [7.92, 2.4], [8.0, 2.45], [8.1, 2.42], [8.2, 2.5], [8.3, 2.45],
  [8.4, 2.5], [8.52, 2.63], [8.6, 2.58], [8.68, 2.7], [8.76, 2.62], [8.84, 2.78], [8.92, 2.65], [9.0, 2.72],
  [9.08, 2.6], [9.14, 2.78], [9.22, 2.68], [9.3, 2.75], [9.4, 2.65], [9.48, 2.8], [9.56, 2.85], [9.64, 2.92],
  [9.72, 2.98], [9.8, 3.03], [9.88, 3.1], [9.96, 3.08], [10.04, 3.16], [10.12, 3.1], [10.2, 3.15], [10.3, 3.09],
  [10.38, 3.0], [10.46, 2.95], [10.55, 2.92], [10.62, 2.85], [10.7, 2.8], [10.78, 2.93], [10.86, 2.77], [10.97, 2.82],
  [11.05, 2.7], [11.14, 2.62], [11.24, 2.5], [11.34, 2.66], [11.44, 2.55], [11.52, 2.5], [11.55, 1.4], [11.6, 2.45],
  [11.63, 2.39], [11.72, 2.3], [11.82, 2.33], [11.92, 2.25], [12.02, 2.21], [12.12, 2.15], [12.2, 2.18], [12.3, 2.1],
  [12.4, 2.12], [12.5, 2.07], [12.6, 2.0], [12.7, 2.02], [12.8, 1.94], [12.9, 1.98], [12.96, 1.94], [13.07, 1.9],
  [13.15, 1.92], [13.2, 0.5], [13.24, 2.1], [13.35, 1.86], [13.45, 1.84], [13.55, 1.2], [13.6, 1.9], [13.7, 1.94],
  [13.8, 1.98], [13.86, 1.94], [13.95, 2.0], [14.05, 1.95], [14.15, 2.02], [14.25, 1.96], [14.4, 1.98], [14.5, 1.9],
  [14.6, 1.85], [14.7, 1.9], [14.8, 1.82], [14.9, 1.85], [15.0, 1.78], [15.1, 1.84], [15.2, 1.76], [15.3, 1.82],
  [15.4, 1.76], [15.5, 1.85], [15.6, 1.78], [15.7, 1.82], [15.8, 1.75], [15.9, 1.8], [16.0, 1.72], [16.1, 1.78],
  [16.2, 1.7], [16.3, 1.0], [16.34, 1.75], [16.45, 1.68], [16.55, 1.78], [16.65, 1.7], [16.76, 1.8], [16.88, 1.72],
  [17.0, 1.82], [17.1, 1.74], [17.2, 1.85], [17.3, 1.76], [17.4, 1.82], [17.5, 1.74], [17.6, 1.84], [17.7, 1.76],
  [17.8, 1.82], [17.9, 1.72], [18.0, 1.76], [18.1, 1.69], [18.2, 1.76], [18.3, 1.7], [18.4, 1.77], [18.5, 1.7],
  [18.6, 1.75], [18.7, 1.69], [18.8, 1.76], [18.9, 1.7], [19.0, 1.75], [19.1, 1.68], [19.2, 1.77], [19.3, 1.7],
  [19.4, 1.74], [19.5, 1.66], [19.6, 1.72], [19.7, 1.64], [19.8, 1.72], [19.9, 1.66], [20.0, 1.74], [20.1, 1.65],
  [20.2, 1.72], [20.3, 1.64], [20.4, 1.7], [20.5, 1.65], [20.6, 1.72], [20.7, 1.64], [20.8, 1.68], [20.9, 1.62],
  [21.0, 1.68], [21.1, 1.63], [21.2, 1.69], [21.3, 1.62], [21.4, 1.67], [21.48, 1.64],
];

// smooth reference curve (drawn red with a green core)
const refCurve: [number, number][] = [
  [0, 0], [0.045, 14], [0.6, 11.5], [0.69, 10.0], [0.76, 9.0], [0.84, 8.0], [0.99, 7.0], [1.1, 6.5],
  [1.25, 6.0], [1.42, 5.45], [1.59, 5.0], [1.78, 4.58], [1.97, 4.16], [2.1, 4.07], [2.28, 3.97], [2.6, 3.76],
  [2.9, 3.57], [3.25, 3.4], [3.65, 3.24], [4.03, 3.12], [4.4, 2.98], [4.8, 2.86], [5.27, 2.73], [5.9, 2.61],
  [6.59, 2.5], [7.5, 2.37], [8.4, 2.25], [9.27, 2.16], [10.14, 2.07], [10.8, 2.02], [11.57, 1.97], [12.5, 1.91],
  [13.5, 1.85], [14.2, 1.8], [15.0, 1.77], [16.29, 1.72], [17.7, 1.67], [19.5, 1.62], [21.5, 1.57],
];

const markerPoint: [number, number][] = [[8.52, 3.26]];

const toPts = (arr: [number, number][]) => arr.map(([d, v]) => ({ x: v, y: d }));

const NoDot = () => <g />;

const SquareMark = (props: any) => {
  const { cx, cy } = props;
  return <rect x={cx - 16} y={cy - 16} width={32} height={32} fill="#FF0000" stroke="#3A1A1A" strokeWidth={1.5} />;
};

const SERIES = [
  { key: "orange", data: orangeTrace, color: "#FF9900", width: 1.5, dash: undefined },
  { key: "magenta", data: magentaTrace, color: "#FF00FF", width: 1.5, dash: undefined },
  { key: "brown", data: brownTrace, color: "#7F4F1A", width: 1.5, dash: undefined },
  { key: "black", data: blackTrace, color: "#000000", width: 1.5, dash: undefined },
  { key: "purple", data: purpleTrace, color: "#7030A0", width: 1.5, dash: undefined },
  { key: "blue", data: blueTrace, color: "#118DC9", width: 1.5, dash: undefined },
  { key: "blueDash", data: blueDashTrace, color: "#1E9CD8", width: 1.5, dash: "5 3" },
  { key: "greenDash", data: greenDashTrace, color: "#6CBF3C", width: 1.5, dash: "3 3" },
];

const fmtDepth = (v: number) => v.toFixed(1).replace(".", ",");

export default function App() {
  return (
    <div
      style={{
        position: "absolute",
        left: 0,
        top: 0,
        width: 1444,
        height: 1394,
        overflow: "hidden",
        background: "#fff",
        fontFamily: '"Open Sans", sans-serif',
      }}
    >
      <div
        style={{
          position: "absolute",
          left: 23,
          top: 685,
          transform: "translate(-50%, -50%) rotate(-90deg)",
          fontSize: 26,
          color: "#595959",
          whiteSpace: "nowrap",
        }}
      >
        Dybde (m)
      </div>
      <ScatterChart width={1444} height={1420} margin={{ top: 25, right: 16, bottom: 30, left: 50 }}>
        <CartesianGrid stroke="#D9D9D9" strokeWidth={2} />
        <XAxis
          type="number"
          dataKey="x"
          orientation="top"
          domain={[0, 10]}
          ticks={X_TICKS}
          allowDataOverflow
          height={30}
          axisLine={false}
          tickLine={false}
          tickSize={0}
          tickMargin={25}
          tick={{ fontSize: 21, fill: "#595959" }}
        />
        <YAxis
          type="number"
          dataKey="y"
          reversed
          domain={[0, 25]}
          ticks={Y_TICKS}
          allowDataOverflow
          width={60}
          axisLine={{ stroke: "#BFBFBF", strokeWidth: 2 }}
          tickLine={false}
          tickSize={0}
          tickMargin={22}
          tickFormatter={fmtDepth}
          tick={{ fontSize: 21, fill: "#595959" }}
        />
        {SERIES.map((s) => (
          <Scatter
            key={s.key}
            name={s.key}
            data={toPts(s.data)}
            fill={s.color}
            line={{ stroke: s.color, strokeWidth: s.width, strokeDasharray: s.dash }}
            lineType="joint"
            shape={NoDot}
            isAnimationActive={false}
          />
        ))}
        <Scatter
          name="curveOuter"
          data={toPts(refCurve)}
          fill="#E8262D"
          line={{ stroke: "#E8262D", strokeWidth: 7, strokeLinecap: "round", strokeLinejoin: "round" }}
          lineType="joint"
          shape={NoDot}
          isAnimationActive={false}
        />
        <Scatter
          name="curveInner"
          data={toPts(refCurve)}
          fill="#5FAE3A"
          line={{ stroke: "#5FAE3A", strokeWidth: 2.5, strokeLinejoin: "round" }}
          lineType="joint"
          shape={NoDot}
          isAnimationActive={false}
        />
        <Scatter
          name="marker"
          data={toPts(markerPoint)}
          fill="#FF0000"
          shape={SquareMark}
          isAnimationActive={false}
        />
      </ScatterChart>
    </div>
  );
}
